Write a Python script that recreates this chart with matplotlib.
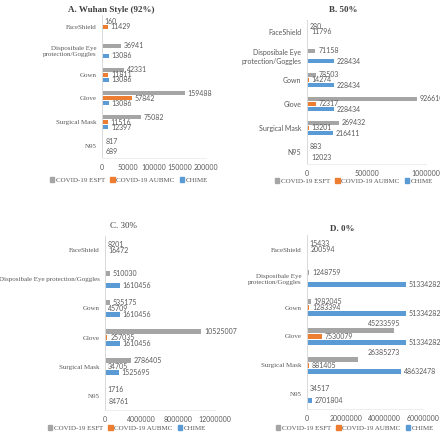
import matplotlib
matplotlib.use("Agg")
import matplotlib.pyplot as plt
import numpy as np

categories = ["FaceShield", "Disposibale Eye\nprotection/Goggles", "Gown", "Glove", "Surgical Mask", "N95"]
series_names = ["COVID-19 ESFT", "COVID-19 AUBMC", "CHIME"]

# panel A: Wuhan Style (92%)
a_esft = [160, 36941, 42331, 159488, 75082, 817]
a_aubmc = [11429, None, 11811, 57842, 11516, None]
a_chime = [None, 13086, 13086, 13086, 12397, 689]
# panel B: 50%
b_esft = [280, 71158, 78503, 926610, 269432, 883]
b_aubmc = [11796, None, 14274, 72317, 13201, None]
b_chime = [None, 228434, 228434, 228434, 216411, 12023]
# panel C: 30%
c_esft = [8201, 510030, 535175, 10525007, 2786405, 1716]
c_aubmc = [16472, None, 45709, 257035, 34705, None]
c_chime = [None, 1610456, 1610456, 1610456, 1525695, 84761]
# panel D: 0%
d_esft = [15433, 1248759, 1982045, 45233595, 26385273, 34517]
d_aubmc = [200594, None, 1283394, 7530079, 881405, None]
d_chime = [None, 51334282, 51334282, 51334282, 48632478, 2701804]

a_ticks = [0, 50000, 100000, 150000, 200000]
b_ticks = [0, 500000, 1000000]
c_ticks = [0, 4000000, 8000000, 12000000]
d_ticks = [0, 20000000, 40000000, 60000000]

colors = ["#A5A5A5", "#ED7D31", "#5B9BD5"]
serif = "Liberation Serif"
sans = "Lato"
txtc = "#595959"

W, H = 440, 432
fig = plt.figure(figsize=(W / 100, H / 100), dpi=100)

def px_axes(l, t, r, b):
    return fig.add_axes([l / W, 1 - b / H, (r - l) / W, (b - t) / H])

panels = [
    dict(box=(102, 15, 206, 158), data=(a_esft, a_aubmc, a_chime), ticks=a_ticks,
         title="A. Wuhan Style (92%)", tbold=True, tx=111, ty=10, cat_font=serif,
         split=True, legy=180, legx=129, above={}),
    dict(box=(307, 20, 426, 164), data=(b_esft, b_aubmc, b_chime), ticks=b_ticks,
         title="B. 50%", tbold=True, tx=343, ty=10, cat_font=sans,
         split=True, legy=181, legx=354, above={}),
    dict(box=(105, 236, 215, 410), data=(c_esft, c_aubmc, c_chime), ticks=c_ticks,
         title="C. 30%", tbold=False, tx=123, ty=226, cat_font=serif,
         split=False, legy=428, legx=127, above={}),
    dict(box=(307, 235, 423, 409), data=(d_esft, d_aubmc, d_chime), ticks=d_ticks,
         title="D. 0%", tbold=True, tx=342, ty=229, cat_font=serif,
         split=True, legy=428, legx=355, above={(3, 0): ("center", -7), (4, 0): ("left", 7)}),
]

y = np.arange(len(categories))
bh = 0.17
offs = [-0.21, 0.0, 0.21]

for p in panels:
    l, t, r, b = p["box"]
    ax = px_axes(l, t, r, b)
    xmax = p["ticks"][-1]
    for si, (vals, col) in enumerate(zip(p["data"], colors)):
        for ci, v in enumerate(vals):
            if v is None:
                continue
            yy = y[ci] + offs[si]
            ax.barh(yy, v, height=bh, color=col, zorder=2)
            key = (ci, si)
            if key in p["above"]:
                ha, dx = p["above"][key]
                ax.annotate(f"{v}", (v, yy), xytext=(dx, 5), textcoords="offset points",
                            fontsize=5, family=sans, color=txtc, ha=ha, va="center",
                            annotation_clip=False)
            else:
                ax.annotate(f"{v}", (v, yy), xytext=(2, 0), textcoords="offset points",
                            fontsize=5, family=sans, color=txtc, ha="left", va="center",
                            annotation_clip=False)
    ax.set_xlim(0, xmax)
    ax.set_ylim(len(categories) - 0.5, -0.5)
    ax.set_xticks(p["ticks"])
    ax.set_xticklabels([str(v) for v in p["ticks"]], fontsize=5, family=sans, color=txtc)
    ax.set_yticks(y)
    cats = categories if p["split"] else [c.replace("\n", " ") for c in categories]
    ax.set_yticklabels(cats, fontsize=5, family=p["cat_font"], color=txtc)
    ax.tick_params(length=0, pad=4)
    for s in ["top", "right"]:
        ax.spines[s].set_visible(False)
    ax.spines["left"].set_color("#D9D9D9")
    ax.spines["left"].set_linewidth(0.7)
    ax.spines["bottom"].set_color("#EEEEEE")
    ax.spines["bottom"].set_linewidth(0.7)
    fig.text(p["tx"] / W, 1 - p["ty"] / H, p["title"], fontsize=6.5, family=serif,
             fontweight="bold" if p["tbold"] else "normal", color="#404040",
             ha="center", va="center")
    handles = [plt.Rectangle((0, 0), 1, 1, color=c) for c in colors]
    fig.legend(handles, series_names, loc="center", bbox_to_anchor=(p["legx"] / W, 1 - p["legy"] / H),
               ncol=3, frameon=False, prop={"family": serif, "size": 5},
               handlelength=0.6, handleheight=0.6, handletextpad=0.2, columnspacing=0.8,
               labelcolor=txtc)

fig.savefig("out.png", dpi=100)
